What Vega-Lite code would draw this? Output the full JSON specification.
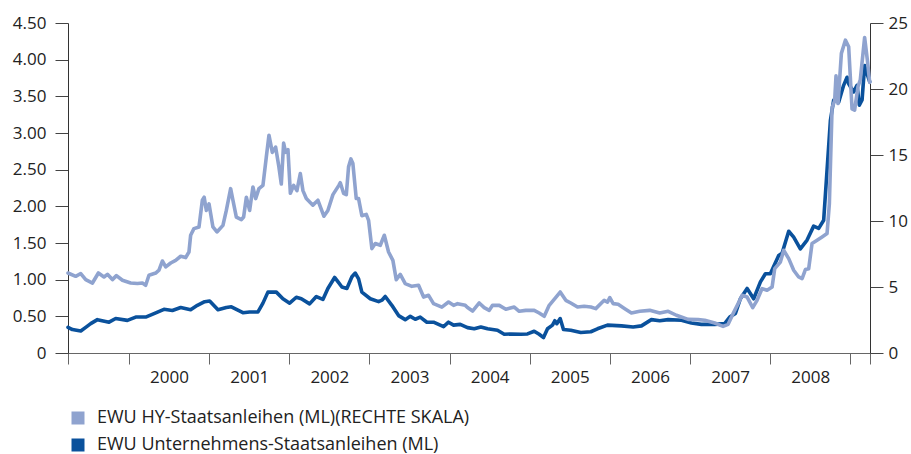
{
  "$schema": "https://vega.github.io/schema/vega-lite/v6.json",
  "width": 802,
  "height": 330,
  "autosize": {"type": "none"},
  "padding": {"left": 68, "top": 23, "right": 41, "bottom": 101},
  "background": "white",
  "config": {
    "view": {"stroke": null},
    "font": "Open Sans",
    "axis": {"labelFont": "Open Sans", "labelFontSize": 17, "labelColor": "#222", "grid": false, "titleFontSize": 0}
  },
  "datasets": {
    "ue": [
      {"jahr": 1999.239, "wert": 0.35}, {"jahr": 1999.294, "wert": 0.32}, {"jahr": 1999.398, "wert": 0.30}, {"jahr": 1999.460, "wert": 0.35},
      {"jahr": 1999.522, "wert": 0.40}, {"jahr": 1999.606, "wert": 0.455}, {"jahr": 1999.751, "wert": 0.42}, {"jahr": 1999.834, "wert": 0.47},
      {"jahr": 1999.980, "wert": 0.445}, {"jahr": 2000.084, "wert": 0.49}, {"jahr": 2000.208, "wert": 0.49}, {"jahr": 2000.312, "wert": 0.537},
      {"jahr": 2000.436, "wert": 0.596}, {"jahr": 2000.541, "wert": 0.58}, {"jahr": 2000.645, "wert": 0.62}, {"jahr": 2000.769, "wert": 0.59},
      {"jahr": 2000.853, "wert": 0.65}, {"jahr": 2000.944, "wert": 0.70}, {"jahr": 2001.006, "wert": 0.71}, {"jahr": 2001.110, "wert": 0.59},
      {"jahr": 2001.214, "wert": 0.62}, {"jahr": 2001.277, "wert": 0.63}, {"jahr": 2001.421, "wert": 0.55}, {"jahr": 2001.505, "wert": 0.56},
      {"jahr": 2001.609, "wert": 0.56}, {"jahr": 2001.671, "wert": 0.68}, {"jahr": 2001.733, "wert": 0.83}, {"jahr": 2001.838, "wert": 0.83},
      {"jahr": 2001.920, "wert": 0.74}, {"jahr": 2002.004, "wert": 0.68}, {"jahr": 2002.087, "wert": 0.76}, {"jahr": 2002.150, "wert": 0.74},
      {"jahr": 2002.253, "wert": 0.67}, {"jahr": 2002.337, "wert": 0.77}, {"jahr": 2002.419, "wert": 0.73}, {"jahr": 2002.481, "wert": 0.88},
      {"jahr": 2002.565, "wert": 1.03}, {"jahr": 2002.594, "wert": 0.99}, {"jahr": 2002.656, "wert": 0.90}, {"jahr": 2002.718, "wert": 0.88},
      {"jahr": 2002.781, "wert": 1.04}, {"jahr": 2002.823, "wert": 1.09}, {"jahr": 2002.864, "wert": 1.01}, {"jahr": 2002.905, "wert": 0.83},
      {"jahr": 2003.010, "wert": 0.74}, {"jahr": 2003.114, "wert": 0.70}, {"jahr": 2003.155, "wert": 0.72}, {"jahr": 2003.197, "wert": 0.77},
      {"jahr": 2003.279, "wert": 0.65}, {"jahr": 2003.363, "wert": 0.51}, {"jahr": 2003.446, "wert": 0.455}, {"jahr": 2003.509, "wert": 0.50},
      {"jahr": 2003.571, "wert": 0.46}, {"jahr": 2003.633, "wert": 0.49}, {"jahr": 2003.716, "wert": 0.42}, {"jahr": 2003.799, "wert": 0.42},
      {"jahr": 2003.924, "wert": 0.36}, {"jahr": 2003.986, "wert": 0.42}, {"jahr": 2004.049, "wert": 0.38}, {"jahr": 2004.132, "wert": 0.39},
      {"jahr": 2004.223, "wert": 0.346}, {"jahr": 2004.307, "wert": 0.33}, {"jahr": 2004.389, "wert": 0.355}, {"jahr": 2004.473, "wert": 0.33},
      {"jahr": 2004.597, "wert": 0.31}, {"jahr": 2004.681, "wert": 0.255}, {"jahr": 2004.763, "wert": 0.26}, {"jahr": 2004.888, "wert": 0.255},
      {"jahr": 2004.971, "wert": 0.26}, {"jahr": 2005.055, "wert": 0.296}, {"jahr": 2005.117, "wert": 0.255}, {"jahr": 2005.171, "wert": 0.21},
      {"jahr": 2005.221, "wert": 0.33}, {"jahr": 2005.283, "wert": 0.38}, {"jahr": 2005.312, "wert": 0.44}, {"jahr": 2005.337, "wert": 0.40},
      {"jahr": 2005.379, "wert": 0.47}, {"jahr": 2005.420, "wert": 0.32}, {"jahr": 2005.511, "wert": 0.31}, {"jahr": 2005.636, "wert": 0.28},
      {"jahr": 2005.761, "wert": 0.29}, {"jahr": 2005.844, "wert": 0.33}, {"jahr": 2005.969, "wert": 0.38}, {"jahr": 2006.144, "wert": 0.37},
      {"jahr": 2006.289, "wert": 0.355}, {"jahr": 2006.393, "wert": 0.37}, {"jahr": 2006.517, "wert": 0.455}, {"jahr": 2006.621, "wert": 0.44},
      {"jahr": 2006.726, "wert": 0.455}, {"jahr": 2006.892, "wert": 0.446}, {"jahr": 2007.016, "wert": 0.41}, {"jahr": 2007.141, "wert": 0.39},
      {"jahr": 2007.307, "wert": 0.39}, {"jahr": 2007.431, "wert": 0.40}, {"jahr": 2007.494, "wert": 0.49}, {"jahr": 2007.565, "wert": 0.54},
      {"jahr": 2007.627, "wert": 0.74}, {"jahr": 2007.711, "wert": 0.88}, {"jahr": 2007.793, "wert": 0.74}, {"jahr": 2007.877, "wert": 0.97},
      {"jahr": 2007.939, "wert": 1.08}, {"jahr": 2008.001, "wert": 1.08}, {"jahr": 2008.105, "wert": 1.33}, {"jahr": 2008.147, "wert": 1.36},
      {"jahr": 2008.230, "wert": 1.66}, {"jahr": 2008.292, "wert": 1.58}, {"jahr": 2008.375, "wert": 1.42}, {"jahr": 2008.459, "wert": 1.54},
      {"jahr": 2008.541, "wert": 1.73}, {"jahr": 2008.604, "wert": 1.70}, {"jahr": 2008.666, "wert": 1.81}, {"jahr": 2008.708, "wert": 2.49},
      {"jahr": 2008.750, "wert": 3.17}, {"jahr": 2008.791, "wert": 3.45}, {"jahr": 2008.853, "wert": 3.42}, {"jahr": 2008.915, "wert": 3.65},
      {"jahr": 2008.958, "wert": 3.76}, {"jahr": 2008.978, "wert": 3.67}, {"jahr": 2009.040, "wert": 3.56}, {"jahr": 2009.082, "wert": 3.65},
      {"jahr": 2009.111, "wert": 3.38}, {"jahr": 2009.145, "wert": 3.45}, {"jahr": 2009.177, "wert": 3.92}, {"jahr": 2009.207, "wert": 3.81},
      {"jahr": 2009.240, "wert": 3.70}
    ],
    "hy": [
      {"jahr": 1999.239, "wert": 6.06}, {"jahr": 1999.335, "wert": 5.81}, {"jahr": 1999.398, "wert": 6.02}, {"jahr": 1999.460, "wert": 5.56},
      {"jahr": 1999.544, "wert": 5.30}, {"jahr": 1999.618, "wert": 6.06}, {"jahr": 1999.688, "wert": 5.76}, {"jahr": 1999.731, "wert": 5.96},
      {"jahr": 1999.793, "wert": 5.56}, {"jahr": 1999.843, "wert": 5.86}, {"jahr": 1999.918, "wert": 5.51}, {"jahr": 2000.021, "wert": 5.30},
      {"jahr": 2000.105, "wert": 5.26}, {"jahr": 2000.167, "wert": 5.30}, {"jahr": 2000.208, "wert": 5.13}, {"jahr": 2000.249, "wert": 5.89},
      {"jahr": 2000.333, "wert": 6.06}, {"jahr": 2000.374, "wert": 6.27}, {"jahr": 2000.416, "wert": 6.97}, {"jahr": 2000.458, "wert": 6.52},
      {"jahr": 2000.520, "wert": 6.82}, {"jahr": 2000.582, "wert": 7.02}, {"jahr": 2000.645, "wert": 7.33}, {"jahr": 2000.707, "wert": 7.23},
      {"jahr": 2000.748, "wert": 7.65}, {"jahr": 2000.769, "wert": 8.92}, {"jahr": 2000.810, "wert": 9.42}, {"jahr": 2000.873, "wert": 9.55},
      {"jahr": 2000.915, "wert": 11.57}, {"jahr": 2000.938, "wert": 11.8}, {"jahr": 2000.965, "wert": 10.8}, {"jahr": 2000.998, "wert": 11.3},
      {"jahr": 2001.047, "wert": 9.55}, {"jahr": 2001.097, "wert": 9.17}, {"jahr": 2001.172, "wert": 9.67}, {"jahr": 2001.214, "wert": 10.8},
      {"jahr": 2001.268, "wert": 12.45}, {"jahr": 2001.297, "wert": 11.57}, {"jahr": 2001.339, "wert": 10.3}, {"jahr": 2001.402, "wert": 10.1},
      {"jahr": 2001.430, "wert": 10.3}, {"jahr": 2001.464, "wert": 11.8}, {"jahr": 2001.505, "wert": 10.8}, {"jahr": 2001.546, "wert": 12.58},
      {"jahr": 2001.580, "wert": 11.7}, {"jahr": 2001.621, "wert": 12.45}, {"jahr": 2001.671, "wert": 12.7}, {"jahr": 2001.713, "wert": 14.85},
      {"jahr": 2001.746, "wert": 16.5}, {"jahr": 2001.788, "wert": 15.2}, {"jahr": 2001.829, "wert": 15.6}, {"jahr": 2001.870, "wert": 14.1},
      {"jahr": 2001.900, "wert": 12.8}, {"jahr": 2001.929, "wert": 15.9}, {"jahr": 2001.954, "wert": 15.2}, {"jahr": 2001.983, "wert": 15.4},
      {"jahr": 2002.013, "wert": 12.1}, {"jahr": 2002.054, "wert": 12.7}, {"jahr": 2002.095, "wert": 12.3}, {"jahr": 2002.137, "wert": 13.6},
      {"jahr": 2002.170, "wert": 12.3}, {"jahr": 2002.212, "wert": 11.7}, {"jahr": 2002.294, "wert": 11.2}, {"jahr": 2002.357, "wert": 11.57},
      {"jahr": 2002.431, "wert": 10.36}, {"jahr": 2002.481, "wert": 10.8}, {"jahr": 2002.544, "wert": 12.0}, {"jahr": 2002.618, "wert": 12.7},
      {"jahr": 2002.636, "wert": 12.9}, {"jahr": 2002.677, "wert": 12.1}, {"jahr": 2002.711, "wert": 12.0}, {"jahr": 2002.739, "wert": 14.1},
      {"jahr": 2002.768, "wert": 14.7}, {"jahr": 2002.793, "wert": 14.35}, {"jahr": 2002.835, "wert": 11.7}, {"jahr": 2002.864, "wert": 11.7},
      {"jahr": 2002.905, "wert": 10.4}, {"jahr": 2002.960, "wert": 10.5}, {"jahr": 2002.989, "wert": 10.05}, {"jahr": 2003.030, "wert": 7.91},
      {"jahr": 2003.072, "wert": 8.29}, {"jahr": 2003.135, "wert": 8.16}, {"jahr": 2003.185, "wert": 8.92}, {"jahr": 2003.238, "wert": 7.65},
      {"jahr": 2003.292, "wert": 7.02}, {"jahr": 2003.334, "wert": 5.56}, {"jahr": 2003.384, "wert": 5.96}, {"jahr": 2003.446, "wert": 5.26},
      {"jahr": 2003.529, "wert": 5.05}, {"jahr": 2003.612, "wert": 5.13}, {"jahr": 2003.675, "wert": 4.24}, {"jahr": 2003.737, "wert": 4.37},
      {"jahr": 2003.799, "wert": 3.74}, {"jahr": 2003.903, "wert": 3.48}, {"jahr": 2003.986, "wert": 3.86}, {"jahr": 2004.049, "wert": 3.61},
      {"jahr": 2004.099, "wert": 3.74}, {"jahr": 2004.195, "wert": 3.61}, {"jahr": 2004.223, "wert": 3.45}, {"jahr": 2004.286, "wert": 3.18},
      {"jahr": 2004.369, "wert": 3.79}, {"jahr": 2004.431, "wert": 3.44}, {"jahr": 2004.494, "wert": 3.23}, {"jahr": 2004.535, "wert": 3.61},
      {"jahr": 2004.619, "wert": 3.61}, {"jahr": 2004.701, "wert": 3.31}, {"jahr": 2004.806, "wert": 3.48}, {"jahr": 2004.868, "wert": 3.16},
      {"jahr": 2004.950, "wert": 3.23}, {"jahr": 2005.055, "wert": 3.23}, {"jahr": 2005.117, "wert": 3.03}, {"jahr": 2005.180, "wert": 2.78},
      {"jahr": 2005.242, "wert": 3.61}, {"jahr": 2005.312, "wert": 4.12}, {"jahr": 2005.379, "wert": 4.62}, {"jahr": 2005.449, "wert": 3.99},
      {"jahr": 2005.511, "wert": 3.79}, {"jahr": 2005.595, "wert": 3.48}, {"jahr": 2005.678, "wert": 3.54}, {"jahr": 2005.761, "wert": 3.48},
      {"jahr": 2005.823, "wert": 3.36}, {"jahr": 2005.928, "wert": 3.99}, {"jahr": 2005.969, "wert": 3.86}, {"jahr": 2005.998, "wert": 4.2},
      {"jahr": 2006.040, "wert": 3.74}, {"jahr": 2006.102, "wert": 3.69}, {"jahr": 2006.185, "wert": 3.36}, {"jahr": 2006.268, "wert": 3.03},
      {"jahr": 2006.371, "wert": 3.16}, {"jahr": 2006.496, "wert": 3.23}, {"jahr": 2006.621, "wert": 3.03}, {"jahr": 2006.726, "wert": 3.16},
      {"jahr": 2006.829, "wert": 2.86}, {"jahr": 2006.975, "wert": 2.55}, {"jahr": 2007.100, "wert": 2.53}, {"jahr": 2007.182, "wert": 2.48},
      {"jahr": 2007.307, "wert": 2.27}, {"jahr": 2007.411, "wert": 2.02}, {"jahr": 2007.474, "wert": 2.17}, {"jahr": 2007.536, "wert": 2.98},
      {"jahr": 2007.599, "wert": 3.74}, {"jahr": 2007.649, "wert": 4.37}, {"jahr": 2007.711, "wert": 4.24}, {"jahr": 2007.781, "wert": 3.44},
      {"jahr": 2007.835, "wert": 3.99}, {"jahr": 2007.898, "wert": 4.88}, {"jahr": 2007.960, "wert": 4.75}, {"jahr": 2008.023, "wert": 5.0},
      {"jahr": 2008.055, "wert": 6.39}, {"jahr": 2008.126, "wert": 6.89}, {"jahr": 2008.167, "wert": 7.78}, {"jahr": 2008.230, "wert": 7.15},
      {"jahr": 2008.292, "wert": 6.27}, {"jahr": 2008.354, "wert": 5.76}, {"jahr": 2008.397, "wert": 5.64}, {"jahr": 2008.438, "wert": 6.32},
      {"jahr": 2008.479, "wert": 6.39}, {"jahr": 2008.521, "wert": 8.29}, {"jahr": 2008.584, "wert": 8.54}, {"jahr": 2008.646, "wert": 8.79},
      {"jahr": 2008.708, "wert": 9.05}, {"jahr": 2008.737, "wert": 11.3}, {"jahr": 2008.771, "wert": 18.6}, {"jahr": 2008.803, "wert": 19.1},
      {"jahr": 2008.820, "wert": 21.0}, {"jahr": 2008.845, "wert": 18.9}, {"jahr": 2008.887, "wert": 22.7}, {"jahr": 2008.937, "wert": 23.7},
      {"jahr": 2008.978, "wert": 23.2}, {"jahr": 2009.020, "wert": 18.5}, {"jahr": 2009.052, "wert": 18.4}, {"jahr": 2009.095, "wert": 20.2},
      {"jahr": 2009.123, "wert": 20.7}, {"jahr": 2009.177, "wert": 23.9}, {"jahr": 2009.211, "wert": 22.2}, {"jahr": 2009.240, "wert": 20.5}
    ]
  },
  "encoding": {
    "x": {
      "field": "jahr",
      "type": "quantitative",
      "scale": {"domain": [1999.239, 2009.244], "nice": false, "zero": false},
      "axis": {
        "title": null,
        "values": [1999.239, 2000, 2001, 2002, 2003, 2004, 2005, 2006, 2007, 2008, 2009, 2009.244],
        "labelExpr": "datum.value >= 2000 && datum.value <= 2008 && datum.value == floor(datum.value) ? format(datum.value, 'd') : ''",
        "labelAlign": "center",
        "labelOffset": 40,
        "labelPadding": 5,
        "tickSize": 11,
        "tickColor": "#666",
        "domainColor": "#666",
        "labelFlush": false,
        "labelOverlap": false
      }
    }
  },
  "layer": [
    {
      "data": {"name": "ue"},
      "mark": {"type": "line", "strokeWidth": 3.6, "strokeJoin": "round", "strokeCap": "round"},
      "encoding": {
        "y": {
          "field": "wert",
          "type": "quantitative",
          "scale": {"domain": [0, 4.5], "nice": false},
          "axis": {
            "orient": "left",
            "title": null,
            "values": [0, 0.5, 1, 1.5, 2, 2.5, 3, 3.5, 4, 4.5],
            "labelExpr": "datum.value == 0 ? '0' : format(datum.value, '.2f')",
            "tickSize": 13,
            "labelPadding": 9,
            "tickColor": "#444",
            "domainColor": "#333"
          }
        },
        "color": {
          "datum": "EWU Unternehmens-Staatsanleihen (ML)",
          "scale": {
            "domain": ["EWU HY-Staatsanleihen (ML)(RECHTE SKALA)", "EWU Unternehmens-Staatsanleihen (ML)"],
            "range": ["#8fa3cf", "#0a519c"]
          },
          "legend": {
            "title": null,
            "orient": "none",
            "legendX": 1,
            "legendY": 386,
            "direction": "vertical",
            "symbolType": "square",
            "symbolSize": 169,
            "symbolStrokeWidth": 0,
            "labelFont": "Open Sans",
            "labelFontSize": 18,
            "labelColor": "#222",
            "labelOffset": 10,
            "rowPadding": 9,
            "padding": 0,
            "labelLimit": 600,
            "encode": {"symbols": {"update": {"fill": {"scale": "color", "field": "value"}, "opacity": {"value": 1}}}}
          }
        }
      }
    },
    {
      "data": {"name": "hy"},
      "mark": {"type": "line", "strokeWidth": 3.6, "strokeJoin": "round", "strokeCap": "round"},
      "encoding": {
        "y": {
          "field": "wert",
          "type": "quantitative",
          "scale": {"domain": [0, 25], "nice": false},
          "axis": {
            "orient": "right",
            "title": null,
            "values": [0, 5, 10, 15, 20, 25],
            "tickSize": 13,
            "labelPadding": 5,
            "tickColor": "#444",
            "domainColor": "#333"
          }
        },
        "color": {"datum": "EWU HY-Staatsanleihen (ML)(RECHTE SKALA)"}
      }
    }
  ],
  "resolve": {"scale": {"y": "independent"}}
}
